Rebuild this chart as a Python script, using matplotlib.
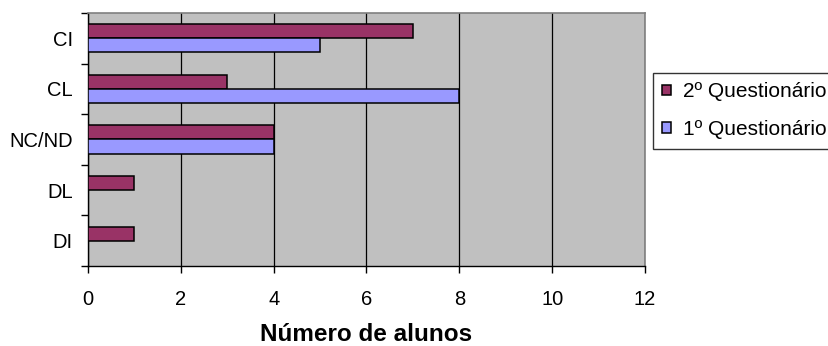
import matplotlib
matplotlib.use("Agg")
import matplotlib.pyplot as plt
import numpy as np

plt.rcParams['font.family'] = ['Liberation Sans', 'DejaVu Sans']

categories = ["CI", "CL", "NC/ND", "DL", "DI"]
series_names = ["2º Questionário", "1º Questionário"]
q2_values = [7, 3, 4, 1, 1]
q1_values = [5, 8, 4, 0, 0]
x_ticks = [0, 2, 4, 6, 8, 10, 12]

fig = plt.figure(figsize=(8.29, 3.46), dpi=100)
ax = fig.add_axes([88 / 829, 1 - 266 / 346, (645 - 88) / 829, (266 - 13) / 346])
ax.set_facecolor("#C0C0C0")

y = np.arange(len(categories))
h = 0.28
ax.barh(y - h / 2, q2_values, height=h, color="#993366", edgecolor="black",
        linewidth=1.1, label=series_names[0], zorder=3)
ax.barh(y + h / 2, q1_values, height=h, color="#9999FF", edgecolor="black",
        linewidth=1.1, label=series_names[1], zorder=3)

ax.set_xlim(0, 12)
ax.set_ylim(len(categories) - 0.5, -0.5)
ax.set_xticks(x_ticks)
ax.set_xticklabels([str(t) for t in x_ticks], fontsize=14.5)
ax.set_yticks(y)
ax.set_yticklabels(categories, fontsize=14.5)
ax.set_yticks(np.arange(len(categories) + 1) - 0.5, minor=True)
ax.tick_params(axis="y", which="major", length=0, pad=11)
ax.tick_params(axis="y", which="minor", length=5, width=1, direction="out")
ax.tick_params(axis="x", length=5, width=1, direction="out", pad=12)

ax.xaxis.grid(True, color="black", linewidth=0.9, zorder=1)
ax.set_axisbelow(True)

for side in ("top", "right"):
    ax.spines[side].set_color("#808080")
    ax.spines[side].set_linewidth(1.2)
for side in ("left", "bottom"):
    ax.spines[side].set_color("black")
    ax.spines[side].set_linewidth(1.0)

ax.set_xlabel("Número de alunos", fontsize=17.5, fontweight="bold", labelpad=10.5)

leg = fig.legend(loc="upper left", bbox_to_anchor=(653 / 829, 1 - 73 / 346),
                 fontsize=15, frameon=True, fancybox=False, handlelength=0.4,
                 handleheight=0.4, handletextpad=0.6, borderpad=0.45,
                 labelspacing=0.9, borderaxespad=0)
leg.get_frame().set_edgecolor("black")
leg.get_frame().set_linewidth(1.0)

fig.savefig("out.png", dpi=100)
